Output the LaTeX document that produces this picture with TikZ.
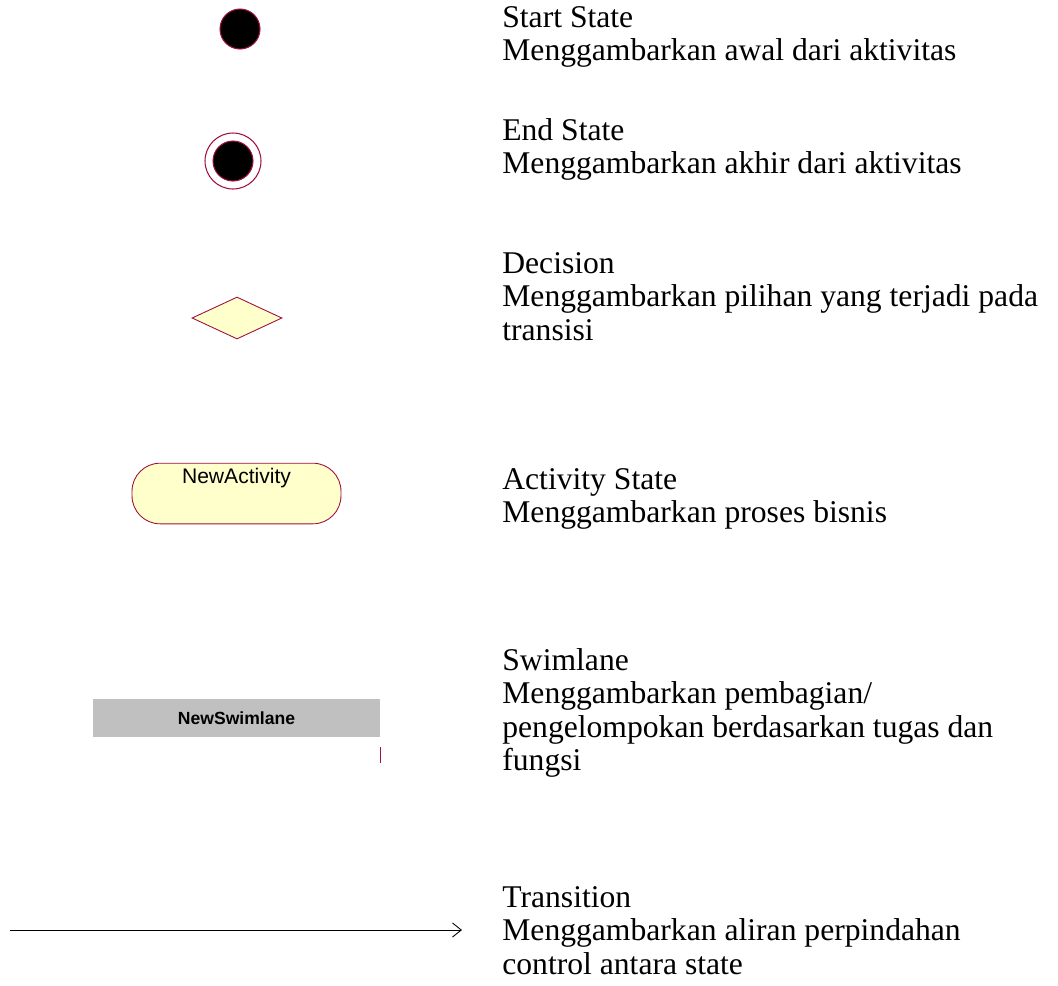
\documentclass[tikz,border=0pt]{standalone}
\usepackage{fontspec}
\setmainfont{Liberation Serif}
\setsansfont{Liberation Sans}
\usetikzlibrary{arrows.meta,shapes.geometric,positioning}
\definecolor{umlred}{RGB}{160,16,60}
\definecolor{umlfill}{RGB}{255,255,204}
\definecolor{lanegray}{RGB}{192,192,192}
\tikzset{
	startstate/.style={circle,draw=umlred,fill=black,line width=0.6pt,minimum size=0.8cm,inner sep=0},
	endring/.style={circle,draw=umlred,line width=0.6pt,minimum size=1.12cm,inner sep=0},
	decisionbox/.style={diamond,draw=umlred,fill=umlfill,line width=0.5pt,minimum width=1.8cm,minimum height=0.84cm,inner sep=0},
	activitybox/.style={rectangle,rounded corners=0.56cm,draw=umlred,fill=umlfill,line width=0.5pt,minimum width=4.18cm,minimum height=1.2cm,
		inner xsep=0,inner ysep=2pt,text height=9.3pt,text depth=21.2pt,font=\sffamily\fontsize{12}{14}\selectfont},
	lanebox/.style={rectangle,fill=lanegray,minimum width=5.74cm,minimum height=0.76cm,inner sep=0,font=\sffamily\bfseries\fontsize{10}{12}\selectfont},
	desc/.style={anchor=north west,align=left,inner sep=0,font=\fontsize{18}{19}\selectfont},
	transition/.style={-{Straight Barb[length=5pt,width=8pt]},line width=0.5pt}
}
\begin{document}
\begin{tikzpicture}[x=0.02cm,y=-0.02cm]
		\useasboundingbox (0,0) rectangle (1058,985);
		% nodes
		\node[startstate] (start) at (240,29) {};							% Start State
		\node[endring] (end) at (233,161) {};								% End State, Ring
		\node[startstate] (endcore) at (end.center) {};					% End State, Kern
		\node[decisionbox] (decision) at (237,318) {};					% Decision
		\node[activitybox] (activity) at (236.5,493.5) {NewActivity};		% Activity State
		\node[lanebox] (swimlane) at (236.5,718) {NewSwimlane};			% Swimlane
		\coordinate (trfrom) at (10,930);									% Transition Anfang
		\coordinate (trto) at (462,930);									% Transition Ende
		
		% descriptions
		\node[desc] (startdesc) at (502,6) {Start State\\Menggambarkan awal dari aktivitas};
		\node[desc] (enddesc) at (502,118) {End State\\Menggambarkan akhir dari aktivitas};
		\node[desc] (decisiondesc) at (502,252) {Decision\\Menggambarkan pilihan yang terjadi pada\\transisi};
		\node[desc] (activitydesc) at (502,468) {Activity State\\Menggambarkan proses bisnis};
		\node[desc] (swimlanedesc) at (502,648) {Swimlane\\Menggambarkan pembagian/\\pengelompokan berdasarkan tugas dan\\fungsi};
		\node[desc] (transitiondesc) at (502,886) {Transition\\Menggambarkan aliran perpindahan\\control antara state};
		
		% lines
		\draw[umlred,line width=0.8pt] ([yshift=-0.2cm]swimlane.south east) -- ([yshift=-0.52cm]swimlane.south east);
		\draw[transition] (trfrom) -- (trto);
\end{tikzpicture}
\end{document}
